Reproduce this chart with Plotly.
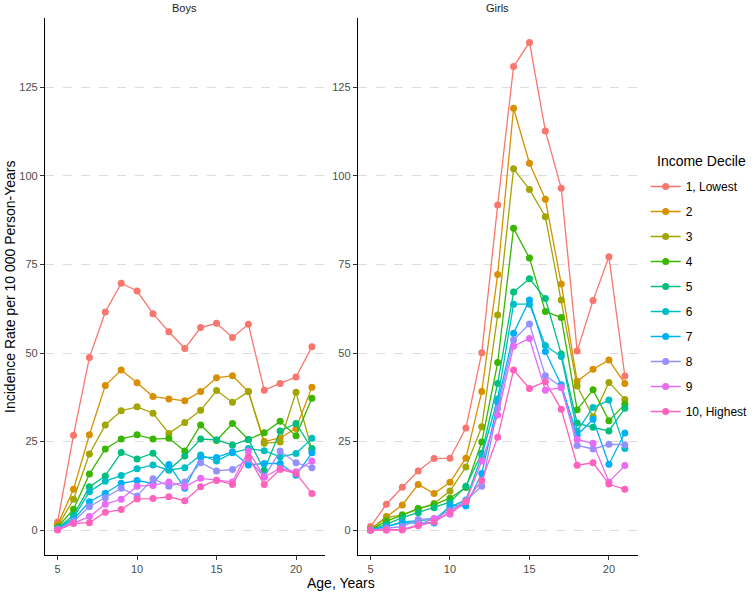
import plotly.graph_objects as go

ages = list(range(5, 22))
deciles = ["1, Lowest", "2", "3", "4", "5", "6", "7", "8", "9", "10, Highest"]
colors = ["#F8766D", "#D89000", "#A3A500", "#39B600", "#00BF7D",
          "#00BFC4", "#00B0F6", "#9590FF", "#E76BF3", "#FF62BC"]

boys_d1 = [2.3, 26.8, 48.7, 61.6, 69.7, 67.5, 61.1, 56.0, 51.3, 57.2, 58.4, 54.4, 58.1, 39.5, 41.4, 43.2, 51.8]
boys_d2 = [1.5, 11.5, 26.9, 40.8, 45.2, 41.6, 37.7, 37.0, 36.5, 39.1, 43.0, 43.6, 39.1, 25.0, 26.0, 28.7, 40.3]
boys_d3 = [1.0, 8.7, 21.5, 29.7, 33.7, 34.8, 33.0, 27.3, 30.4, 33.8, 39.4, 36.1, 39.1, 24.5, 24.9, 38.9, 22.6]
boys_d4 = [0.8, 5.9, 15.8, 22.9, 25.7, 26.9, 25.7, 25.9, 22.3, 29.7, 25.3, 30.1, 25.6, 27.5, 30.7, 26.6, 37.2]
boys_d5 = [0.5, 4.2, 12.2, 15.3, 21.9, 20.1, 21.7, 17.0, 20.9, 25.7, 25.5, 24.0, 25.6, 16.9, 28.0, 30.1, 23.0]
boys_d6 = [0.4, 3.5, 10.8, 13.8, 15.4, 17.3, 18.4, 16.9, 17.6, 21.2, 19.5, 21.8, 23.0, 22.4, 20.7, 21.6, 25.9]
boys_d7 = [0.3, 3.0, 8.0, 10.4, 13.2, 14.0, 13.2, 18.5, 11.8, 20.5, 20.5, 22.1, 18.4, 18.8, 18.8, 15.5, 21.8]
boys_d8 = [0.2, 2.5, 6.6, 9.1, 11.8, 9.6, 14.5, 12.4, 13.6, 19.0, 16.7, 17.1, 20.0, 15.0, 22.3, 19.0, 17.6]
boys_d9 = [0.1, 1.9, 3.8, 7.3, 8.7, 12.4, 12.6, 13.6, 12.2, 14.6, 14.1, 13.6, 22.3, 15.0, 17.4, 16.5, 19.5]
boys_d10 = [0.0, 1.9, 2.1, 5.0, 5.8, 8.8, 8.9, 9.4, 8.3, 12.2, 14.1, 12.9, 20.7, 12.9, 17.1, 16.0, 10.3]

girls_d1 = [1.0, 7.3, 12.1, 16.7, 20.2, 20.3, 28.8, 50.1, 91.8, 130.9, 137.7, 112.7, 96.5, 50.6, 64.8, 77.2, 43.5]
girls_d2 = [0.3, 3.8, 7.1, 12.9, 10.3, 13.5, 20.3, 39.1, 72.2, 119.1, 103.6, 93.4, 69.5, 42.0, 45.4, 48.0, 41.4]
girls_d3 = [0.2, 3.5, 4.3, 6.0, 7.5, 11.0, 17.8, 29.2, 60.7, 102.0, 96.2, 88.5, 65.0, 40.7, 32.0, 41.7, 36.9]
girls_d4 = [0.1, 2.5, 4.2, 6.1, 7.2, 9.0, 12.0, 24.9, 47.3, 85.2, 76.8, 61.7, 60.0, 34.0, 39.6, 30.9, 35.5]
girls_d5 = [0.1, 1.6, 3.5, 4.9, 6.3, 7.9, 12.4, 21.7, 41.4, 67.2, 71.0, 65.4, 49.7, 30.2, 29.0, 28.0, 34.4]
girls_d6 = [0.0, 1.0, 2.3, 2.6, 3.0, 6.5, 8.5, 21.0, 37.0, 63.8, 63.8, 52.1, 49.0, 28.0, 34.6, 36.7, 23.0]
girls_d7 = [0.0, 1.0, 2.1, 2.0, 2.0, 7.0, 6.8, 16.0, 36.0, 55.6, 65.0, 50.4, 41.0, 26.8, 31.3, 18.6, 27.4]
girls_d8 = [0.0, 0.5, 1.0, 3.0, 3.3, 5.5, 8.3, 12.4, 34.4, 53.7, 58.2, 43.6, 40.5, 23.9, 22.9, 24.2, 24.1]
girls_d9 = [0.0, 0.0, 0.2, 1.5, 3.2, 4.5, 8.0, 19.5, 32.5, 51.9, 54.1, 39.5, 40.2, 25.6, 24.5, 13.6, 18.2]
girls_d10 = [0.0, 0.0, 0.0, 1.2, 2.3, 5.0, 8.0, 14.0, 26.2, 45.2, 40.0, 41.9, 34.1, 18.3, 19.0, 13.0, 11.5]

boys = [boys_d1, boys_d2, boys_d3, boys_d4, boys_d5, boys_d6, boys_d7, boys_d8, boys_d9, boys_d10]
girls = [girls_d1, girls_d2, girls_d3, girls_d4, girls_d5, girls_d6, girls_d7, girls_d8, girls_d9, girls_d10]

y_ticks = [0, 25, 50, 75, 100, 125]
x_ticks = [5, 10, 15, 20]

FONT = "Liberation Sans, Arial, Helvetica, sans-serif"

fig = go.Figure()
for i, name in enumerate(deciles):
    fig.add_trace(go.Scatter(
        x=ages, y=boys[i], mode="lines+markers", name=name,
        legendgroup=name, showlegend=True,
        line=dict(color=colors[i], width=1.3),
        marker=dict(color=colors[i], size=7),
        xaxis="x", yaxis="y"))
for i, name in enumerate(deciles):
    fig.add_trace(go.Scatter(
        x=ages, y=girls[i], mode="lines+markers", name=name,
        legendgroup=name, showlegend=False,
        line=dict(color=colors[i], width=1.3),
        marker=dict(color=colors[i], size=7),
        xaxis="x2", yaxis="y2"))

xcommon = dict(range=[4.2, 21.8], tickvals=x_ticks, showgrid=False, zeroline=False,
               showline=True, linecolor="black", linewidth=1.1,
               ticks="outside", ticklen=4, tickcolor="#333333", tickwidth=1,
               tickfont=dict(family=FONT, size=11, color="#4D4D4D"), automargin=False)
ycommon = dict(range=[-6.9, 144.6], tickvals=y_ticks, showgrid=True, gridcolor="#DDDDDD",
               griddash="dash", gridwidth=0.7, zeroline=False,
               showline=True, linecolor="black", linewidth=1.1,
               ticks="outside", ticklen=4, tickcolor="#333333", tickwidth=1,
               tickfont=dict(family=FONT, size=11, color="#4D4D4D"), automargin=False)

def py(px):
    return (592 - px) / 592

fig.update_layout(
    width=753, height=592,
    margin=dict(l=0, r=0, t=0, b=0),
    paper_bgcolor="white", plot_bgcolor="white",
    font=dict(family=FONT, color="black"),
    xaxis=dict(domain=[45.2 / 753, 326.8 / 753], anchor="y", **xcommon),
    yaxis=dict(domain=[py(554.5), py(18)], anchor="x", **ycommon),
    xaxis2=dict(domain=[360.2 / 753, 641.8 / 753], anchor="y2", **xcommon),
    yaxis2=dict(domain=[py(554.5), py(18)], anchor="x2", **ycommon),
    legend=dict(
        x=650 / 753, xanchor="left", y=py(172), yanchor="top",
        font=dict(family=FONT, size=12, color="black"),
        tracegroupgap=6, itemwidth=30, bgcolor="rgba(0,0,0,0)"),
    annotations=[
        dict(text="Income Decile", x=659 / 753, y=py(161), xref="paper", yref="paper",
             xanchor="left", yanchor="middle", showarrow=False,
             font=dict(family=FONT, size=14, color="black")),
        dict(text="Boys", x=186 / 753, y=py(8), xref="paper", yref="paper",
             xanchor="center", yanchor="middle",
             showarrow=False, font=dict(family=FONT, size=11, color="#1A1A1A")),
        dict(text="Girls", x=501 / 753, y=py(8), xref="paper", yref="paper",
             xanchor="center", yanchor="middle",
             showarrow=False, font=dict(family=FONT, size=11, color="#1A1A1A")),
        dict(text="Age, Years", x=343 / 753, y=py(583), xref="paper", yref="paper",
             xanchor="center", yanchor="middle",
             showarrow=False, font=dict(family=FONT, size=14, color="black")),
        dict(text="Incidence Rate per 10 000 Person-Years", x=10 / 753, y=py(287),
             xref="paper", yref="paper", textangle=-90, showarrow=False,
             xanchor="center", yanchor="middle",
             font=dict(family=FONT, size=14, color="black")),
    ],
)

fig.write_html("out.html")
